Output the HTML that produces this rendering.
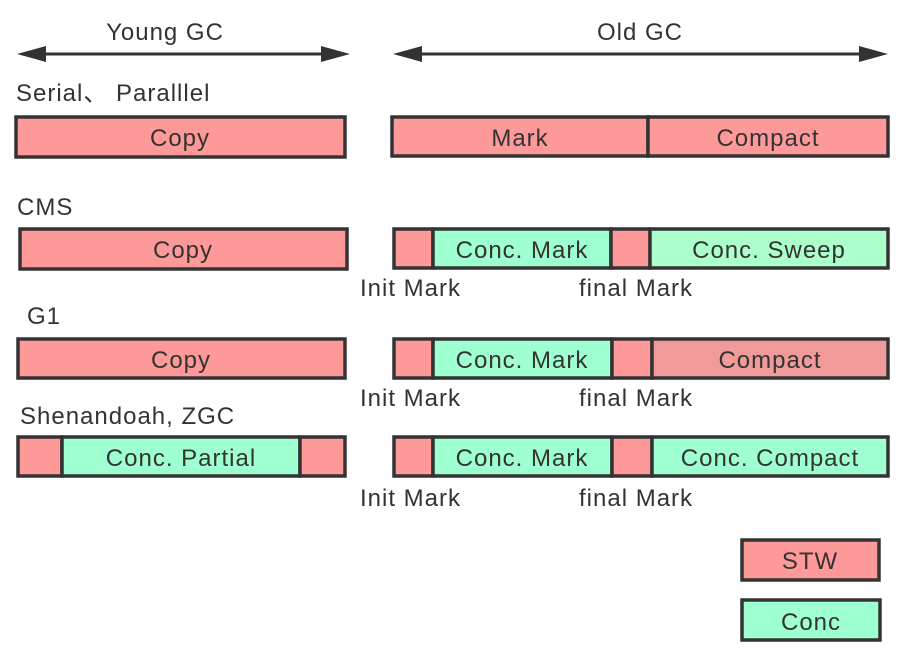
<!DOCTYPE html>
<html><head><meta charset="utf-8"><style>
html,body{margin:0;padding:0;background:#fff;}
svg{display:block;}
text{font-family:"Liberation Sans","Noto Sans CJK SC",sans-serif;font-size:24px;letter-spacing:1px;fill:#333;}
.c{text-anchor:middle;}
</style></head><body>
<svg width="900" height="656" viewBox="0 0 900 656" xmlns="http://www.w3.org/2000/svg">
<g stroke="#333" stroke-width="3">
<line x1="35" y1="54" x2="330" y2="54"/>
<line x1="410" y1="54" x2="870" y2="54"/>
</g>
<g fill="#333">
<polygon points="17,54 46,46 46,62"/>
<polygon points="350,54 321,46 321,62"/>
<polygon points="393,54 422,46 422,62"/>
<polygon points="888,54 859,46 859,62"/>
</g>
<text x="165" y="40" class="c">Young GC</text>
<text x="640" y="40" class="c">Old GC</text>

<text x="16" y="101">Serial、 Paralllel</text>
<text x="17" y="215">CMS</text>
<text x="27" y="324">G1</text>
<text x="20" y="424">Shenandoah, ZGC</text>

<g stroke="#333" stroke-width="3.5">
<rect x="16" y="117" width="329" height="40" fill="#fe9999"/>
<rect x="392" y="117" width="256" height="39" fill="#fe9999"/>
<rect x="648" y="117" width="240" height="39" fill="#fe9999"/>
<rect x="20" y="229" width="327" height="40" fill="#fe9999"/>
<rect x="394" y="229" width="39" height="39" fill="#fe9999"/>
<rect x="433" y="229" width="178" height="39" fill="#9effd0"/>
<rect x="611" y="229" width="39" height="39" fill="#fe9999"/>
<rect x="650" y="229" width="238" height="39" fill="#abffcb"/>
<rect x="18" y="339" width="327" height="39" fill="#fe9999"/>
<rect x="394" y="339" width="39" height="39" fill="#fe9999"/>
<rect x="433" y="339" width="179" height="39" fill="#9effd0"/>
<rect x="612" y="339" width="40" height="39" fill="#fe9999"/>
<rect x="652" y="339" width="236" height="39" fill="#f09a99"/>
<rect x="18" y="437" width="44" height="39" fill="#fe9999"/>
<rect x="62" y="437" width="238" height="39" fill="#9effd0"/>
<rect x="300" y="437" width="45" height="39" fill="#fe9999"/>
<rect x="394" y="437" width="39" height="39" fill="#fe9999"/>
<rect x="433" y="437" width="179" height="39" fill="#9effd0"/>
<rect x="612" y="437" width="40" height="39" fill="#fe9999"/>
<rect x="652" y="437" width="236" height="39" fill="#9effd0"/>
<rect x="742" y="540" width="137" height="40" fill="#fe9999"/>
<rect x="742" y="600" width="138" height="40" fill="#9effd0"/>
</g>

<text x="180" y="146" class="c">Copy</text>
<text x="520" y="146" class="c">Mark</text>
<text x="768" y="146" class="c">Compact</text>

<text x="183" y="258" class="c">Copy</text>
<text x="522" y="258" class="c">Conc. Mark</text>
<text x="769" y="258" class="c">Conc. Sweep</text>

<text x="181" y="368" class="c">Copy</text>
<text x="522" y="368" class="c">Conc. Mark</text>
<text x="770" y="368" class="c">Compact</text>

<text x="181" y="466" class="c">Conc. Partial</text>
<text x="522" y="466" class="c">Conc. Mark</text>
<text x="770" y="466" class="c">Conc. Compact</text>

<text x="360" y="296">Init Mark</text>
<text x="579" y="296">final Mark</text>
<text x="360" y="406">Init Mark</text>
<text x="579" y="406">final Mark</text>
<text x="360" y="506">Init Mark</text>
<text x="579" y="506">final Mark</text>

<text x="810" y="569" class="c">STW</text>
<text x="811" y="630" class="c">Conc</text>
</svg>
</body></html>
